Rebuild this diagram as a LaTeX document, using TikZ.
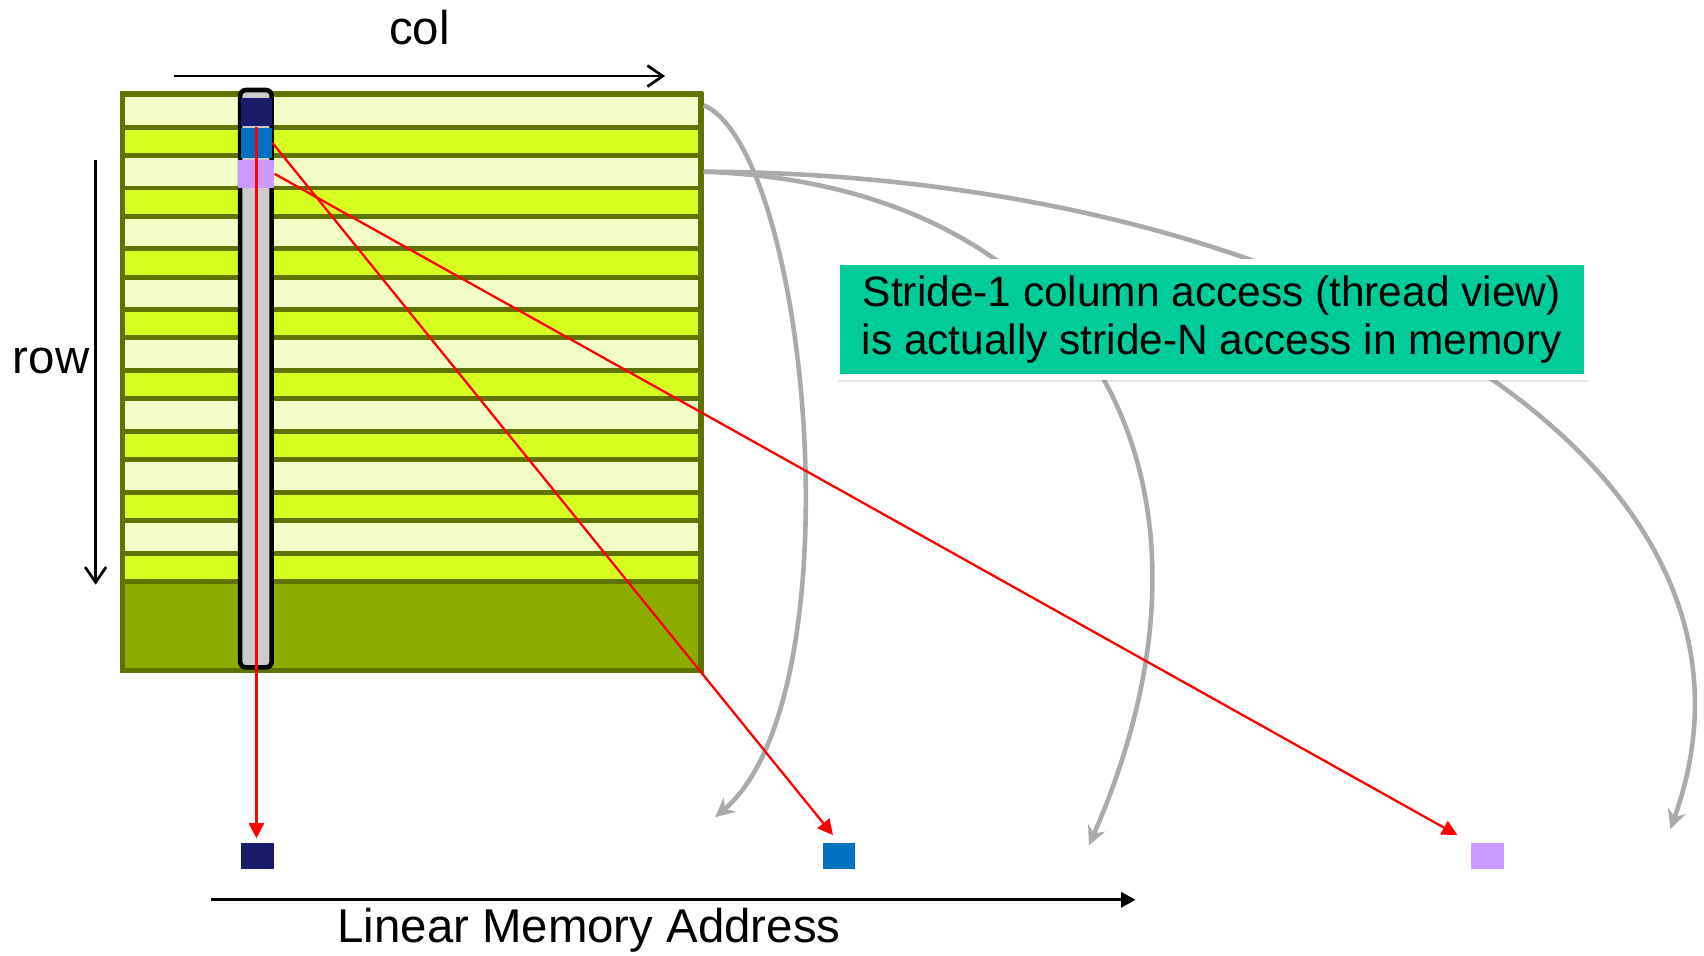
\documentclass[tikz,border=0pt]{standalone}
\usepackage{fontspec}
\setmainfont{Liberation Sans}
\usetikzlibrary{arrows.meta,positioning,shadows}
\definecolor{stripeedge}{RGB}{94,115,0}
\definecolor{rowlight}  {RGB}{242,253,200}
\definecolor{rowyellow} {RGB}{214,255,31}
\definecolor{rowdark}   {RGB}{140,173,0}
\definecolor{cellnavy}  {RGB}{27,27,107}
\definecolor{cellblue}  {RGB}{0,112,192}
\definecolor{celllav}   {RGB}{204,153,255}
\definecolor{threadgray}{RGB}{204,204,204}
\definecolor{curvegray} {RGB}{170,170,170}
\definecolor{noteteal}  {RGB}{0,204,153}

\begin{document}
\begin{tikzpicture}[
  x=0.01cm, y=-0.01cm,
  lightrow/.style={rectangle, draw=stripeedge, fill=rowlight, line width=1.3pt,
    minimum width=5.32cm, minimum height=0.30cm, inner sep=0pt},
  yellowrow/.style={lightrow, fill=rowyellow, minimum height=0.26cm},
  darkrow/.style={lightrow, fill=rowdark, minimum height=0.82cm},
  threadcol/.style={rectangle, rounded corners=1.5pt, draw=black, fill=threadgray,
    line width=1.2pt, minimum width=0.29cm, minimum height=5.31cm, inner sep=0pt},
  cell/.style={rectangle, inner sep=0pt, minimum width=0.28cm, minimum height=0.26cm},
  memcell/.style={rectangle, inner sep=0pt, minimum width=0.30cm, minimum height=0.24cm},
  axislabel/.style={font=\fontsize{12.4}{14}\selectfont},
  axisarr/.style={line width=0.7pt, -{Straight Barb[length=4pt,width=5.5pt]}},
  addrarr/.style={line width=0.85pt, -{Triangle[length=3.8pt,width=3.9pt]}},
  redarr/.style={draw=red, line width=0.6pt, -{Triangle[length=4pt,width=4pt]}},
  grayarr/.style={draw=curvegray, line width=1.2pt, -{Stealth[length=5pt,width=4.8pt]}},
  callout/.style={rectangle, fill=noteteal, draw=white, line width=0.06cm,
    minimum width=6.90cm, minimum height=1.06cm, inner sep=0pt, align=center,
    font=\fontsize{11.1}{12.5}\selectfont,
    drop shadow={opacity=0.2, shadow xshift=0.3pt, shadow yshift=-1.2pt}},
]
\useasboundingbox (0,0) rectangle (1568,879);

% Matrix rows
\foreach \i in {0,...,7}{
  \pgfmathtruncatemacro\ra{2*\i+1}
  \pgfmathtruncatemacro\rb{2*\i+2}
  \node[lightrow]  (r\ra) at (379,102+56*\i) {};
  \node[yellowrow] (r\rb) at (379,130+56*\i) {};
}
\node[darkrow] (r17) at (379,576) {};
\draw[stripeedge, line width=1.3pt] (113,86) rectangle (645,617);

% Thread column and its cells
\node[threadcol] (thread) at (235.5,348.5) {};
\node[cell, fill=cellnavy] (c1) at (236,103) {};
\node[cell, fill=cellblue, minimum height=0.27cm] (c2) at (236,131.5) {};
\node[cell, fill=celllav, minimum width=0.33cm] (c3) at (235.5,160) {};

% Axes
\coordinate (colstart) at (160,70);
\coordinate (colend)   at (612,70);
\coordinate (rowstart) at (88,147);
\coordinate (rowend)   at (88,538);
\draw[axisarr] (colstart) -- (colend);
\draw[axisarr] (rowstart) -- (rowend);
\node[axislabel] (collbl) at (386,25)  {col};
\node[axislabel] (rowlbl) at (47,332)  {row};

% Linear memory
\node[memcell, fill=cellnavy] (m1) at (237,788)  {};
\node[memcell, fill=cellblue] (m2) at (772,788)  {};
\node[memcell, fill=celllav]  (m3) at (1369,788) {};
\coordinate (addrstart) at (194,828);
\coordinate (addrend)   at (1045,828);
\draw[addrarr] (addrstart) -- (addrend);
\node[axislabel] (addrlbl) at (542,856) {Linear Memory Address};

% Row-to-memory curves
\coordinate (g1end) at (658,752);
\coordinate (g2end) at (1002,778);
\coordinate (g3end) at (1537,763);
\draw[grayarr] ([yshift=1.5pt]r1.east) .. controls (745,140) and (790,640) .. (g1end);
\draw[grayarr] (r3.east) .. controls (1000,170) and (1150,440) .. (g2end);
\draw[grayarr] (r3.east) .. controls (1200,160) and (1660,420) .. (g3end);

% Thread accesses
\draw[redarr, shorten >=1.1pt] (c1.south) -- (c1.south |- m1.north);
\draw[redarr, shorten >=2.5pt] (c2.east) -- (m2.north);
\draw[redarr, shorten >=4pt]   (c3.east) -- (m3.north west);

% Callout
\node[callout] (note) at (1115,294)
  {Stride-1 column access (thread view)\\is actually stride-N access in memory};

\end{tikzpicture}
\end{document}
